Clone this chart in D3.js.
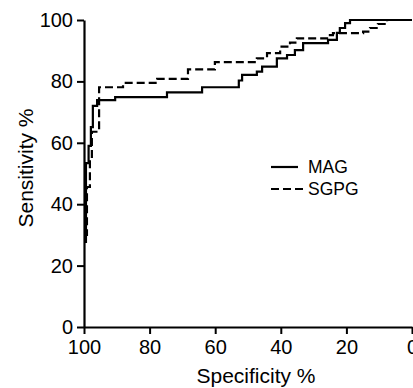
<!DOCTYPE html>
<html>
<head>
<meta charset="utf-8">
<script src="https://cdn.jsdelivr.net/npm/d3@7"></script>
<style>
  body { margin: 0; background: #fff; }
  text { font-family: "Liberation Sans", Arial, Helvetica, sans-serif; fill: #000; }
</style>
</head>
<body>
<div id="rocChart"></div>
<script>
// ROC curves (specificity %, sensitivity %)
var magSpec  = [99.7, 99.4, 98.6, 97.9, 97.3, 96.0, 90.5, 74.7, 64.0, 52.8, 51.8, 47.3, 45.7, 41.2, 38.1, 35.7, 33.2, 25.6, 22.9, 22.0, 20.4, 18.9, 0];
var magSens  = [27.7, 53.4, 59.0, 65.1, 72.0, 73.9, 74.9, 76.4, 78.1, 80.3, 82.1, 83.2, 84.8, 87.5, 88.6, 90.2, 92.5, 93.5, 95.8, 97.4, 99.0, 100, 100];

var sgpgSpec = [99.8, 99.1, 98.2, 97.6, 95.4, 88.1, 77.7, 68.3, 60.1, 47.3, 44.2, 40.2, 37.2, 35.1, 25.9, 24.1, 14.9, 12.8, 10.4, 7.6, 0];
var sgpgSens = [30.0, 45.6, 54.4, 63.6, 78.1, 79.5, 80.8, 83.9, 86.3, 87.5, 89.2, 91.3, 92.6, 94.0, 95.1, 95.7, 96.2, 97.4, 98.7, 100, 100];

var xTicks = [100, 80, 60, 40, 20, 0];
var yTicks = [0, 20, 40, 60, 80, 100];
var seriesNames = ['MAG', 'SGPG'];

var width = 413, height = 388;

function zip(xs, ys) {
    return xs.map(function(x, i) { return [x, ys[i]]; });
}

function drawRocChart() {
    var svg = d3.select('#rocChart').append('svg')
        .attr('width', width)
        .attr('height', height);

    var x = d3.scaleLinear().domain([100, 0]).range([84, 412]);
    var y = d3.scaleLinear().domain([0, 100]).range([327, 20]);

    var xAxis = svg.append('g')
        .attr('transform', 'translate(0,327)')
        .call(d3.axisBottom(x).tickValues(xTicks).tickSize(7).tickPadding(6).tickSizeOuter(0));
    var yAxis = svg.append('g')
        .attr('transform', 'translate(84,0)')
        .call(d3.axisLeft(y).tickValues(yTicks).tickSize(7).tickPadding(4).tickSizeOuter(0));

    [xAxis, yAxis].forEach(function(ax) {
        ax.select('.domain').attr('stroke', '#000').attr('stroke-width', 2.2);
        ax.selectAll('.tick line').attr('stroke', '#000').attr('stroke-width', 2);
        ax.selectAll('.tick text')
            .style('font-size', '20px')
            .style('font-family', '"Liberation Sans", Arial, sans-serif')
            .attr('fill', '#000');
    });

    var line = d3.line()
        .x(function(d) { return x(d[0]); })
        .y(function(d) { return y(d[1]); })
        .curve(d3.curveStepAfter);

    svg.append('path')
        .datum(zip(magSpec, magSens))
        .attr('d', line)
        .attr('fill', 'none')
        .attr('stroke', '#000')
        .attr('stroke-width', 2.2);

    svg.append('path')
        .datum(zip(sgpgSpec, sgpgSens))
        .attr('d', line)
        .attr('fill', 'none')
        .attr('stroke', '#000')
        .attr('stroke-width', 2.2)
        .attr('stroke-dasharray', '8,4');

    // legend
    var legend = svg.append('g');
    seriesNames.forEach(function(name, i) {
        var ly = 167 + i * 22;
        legend.append('line')
            .attr('x1', 271).attr('x2', i ? 304 : 298)
            .attr('y1', ly).attr('y2', ly)
            .attr('stroke', '#000')
            .attr('stroke-width', 2.2)
            .attr('stroke-dasharray', i ? '8,4' : null);
        legend.append('text')
            .attr('x', 308)
            .attr('y', ly + 6)
            .style('font-size', '17.5px')
            .text(name);
    });

    // axis titles
    svg.append('text')
        .attr('x', 256)
        .attr('y', 383)
        .attr('text-anchor', 'middle')
        .style('font-size', '21px')
        .text('Specificity %');

    svg.append('text')
        .attr('transform', 'translate(33,168) rotate(-90)')
        .attr('text-anchor', 'middle')
        .style('font-size', '21px')
        .text('Sensitivity %');
}

drawRocChart();
</script>
</body>
</html>
